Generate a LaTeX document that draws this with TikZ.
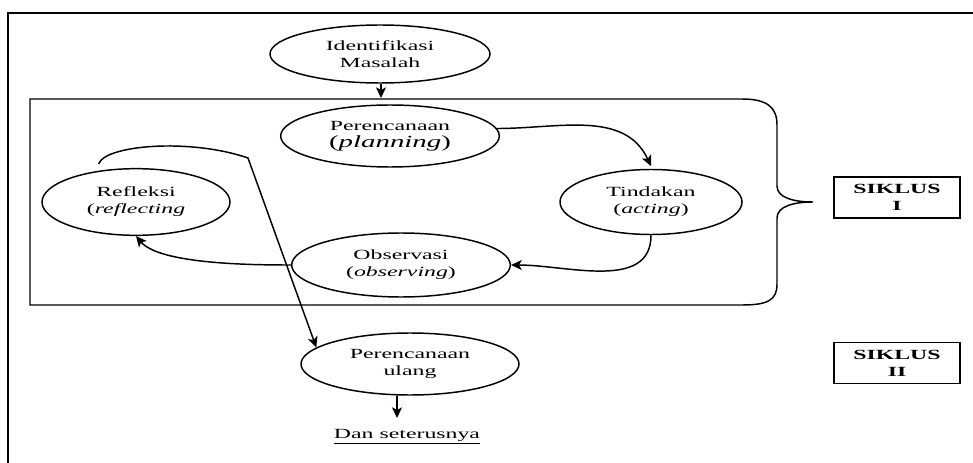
\documentclass[tikz,border=0pt]{standalone}
\usepackage{fontspec}
\setmainfont[FakeStretch=1.7]{Liberation Serif}
\usetikzlibrary{shapes.geometric,arrows.meta}

\begin{document}
\begin{tikzpicture}[x=0.75pt,y=-0.75pt,>={Stealth[length=8pt,width=7.5pt,inset=2pt]},
    font=\fontsize{10.5}{12.75}\selectfont,
    tahap/.style={draw,ellipse,line width=1.1pt,inner sep=0pt,align=center},
    siklus/.style={draw,line width=1.3pt,minimum width=94.5pt,minimum height=30.75pt,
        inner sep=0pt,align=center,font=\fontsize{10.5}{12.75}\selectfont\bfseries},
    panah/.style={->,line width=1.1pt}]
    \useasboundingbox (0,0) rectangle (973,463);
    % bingkai luar
    \draw[line width=1.5pt] (8,463) -- (8,13) -- (973,13);
    % kotak siklus dengan kurung kurawal
    \draw[line width=1.1pt] (30,99) -- (742,99) .. controls (768,99) and (777,108) .. (777,125)
        -- (777,186) .. controls (777,197) and (792,202) .. (813,202)
        .. controls (792,202) and (777,207) .. (777,218)
        -- (777,284) .. controls (777,300) and (768,305) .. (742,305) -- (30,305) -- cycle;
    % tahapan
    \node[tahap,minimum width=165pt,minimum height=43.5pt] (idm) at (380,54) {Identifikasi\\Masalah};
    \node[tahap,minimum width=164pt,minimum height=46.5pt] (plan) at (390,136)
        {Perencanaan\\{\fontsize{12.75}{14}\selectfont(\textit{planning})}};
    \node[tahap,minimum width=136.5pt,minimum height=48.75pt] (act) at (651,202) {Tindakan\\(\textit{acting})};
    \node[tahap,minimum width=164pt,minimum height=48pt] (obs) at (401,265) {Observasi\\(\textit{observing})};
    \node[tahap,minimum width=141pt,minimum height=50pt] (refl) at (136,202) {Refleksi\\(\textit{reflecting}};
    \node[tahap,minimum width=163.5pt,minimum height=46.5pt] (ulang) at (410,364) {Perencanaan\\ulang};
    \node (dan) at (407,437) {\underline{Dan seterusnya}};
    \node[siklus] (sik1) at (897,197.5) {SIKLUS\\I};
    \node[siklus] (sik2) at (897,363) {SIKLUS\\II};
    \coordinate (boxtop) at (381,98);
    \coordinate (tekuk) at (248,158);
    \coordinate (lanjut) at (397,418);
    % panah
    \draw[panah] (idm.south -| boxtop) -- (boxtop);
    \draw[panah] (plan.4) to[out=0,in=115] ([yshift=2pt]act.north);
    \draw[panah] (act.south) to[out=-90,in=0] (obs.east);
    \draw[panah] (obs.west) to[out=180,in=-50,looseness=0.6] (refl.south);
    \draw[panah] ([xshift=-28pt,yshift=3pt]refl.north) .. controls (105,145) and (190,138) .. (tekuk)
        -- (ulang.170);
    \draw[panah] (ulang.south -| lanjut) -- (lanjut);
\end{tikzpicture}
\end{document}
